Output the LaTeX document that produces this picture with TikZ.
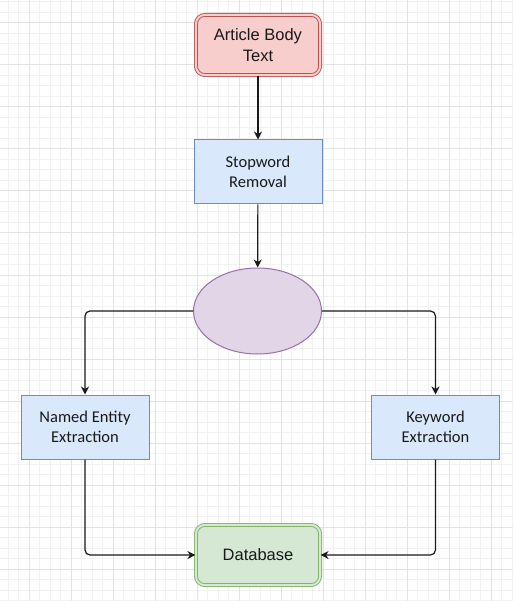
\documentclass[tikz,border=0pt]{standalone}
\usepackage{fontspec}
\setmainfont{Carlito}
\newfontfamily\arialfont{Liberation Sans}
\usetikzlibrary{arrows.meta,shapes.geometric}

\definecolor{redfill}{HTML}{F8CECC}
\definecolor{redline}{HTML}{B85450}
\definecolor{bluefill}{HTML}{DAE8FC}
\definecolor{blueline}{HTML}{6C8EBF}
\definecolor{purplefill}{HTML}{E1D5E7}
\definecolor{purpleline}{HTML}{9673A6}
\definecolor{greenfill}{HTML}{D5E8D4}
\definecolor{greenline}{HTML}{82B366}
\definecolor{gridminor}{HTML}{F2F2F2}
\definecolor{gridmajor}{HTML}{E3E3E3}

\tikzset{
	boxtext/.style={align=center, text=black!90, font=\fontsize{16.5}{20.5}\selectfont},
	stepbox/.style={boxtext, draw=blueline, fill=bluefill, line width=1pt, inner sep=0pt,
		minimum width=128pt, minimum height=64pt},
	endbox/.style={boxtext, font=\arialfont\fontsize{16.5}{20.5}\selectfont, rounded corners=9pt,
		line width=0.9pt, double distance=2pt, inner sep=0pt,
		minimum width=124.2pt, minimum height=60.2pt},
	splitnode/.style={ellipse, draw=purpleline, fill=purplefill, line width=1pt, inner sep=0pt,
		minimum width=128pt, minimum height=86pt},
	flow/.style={line width=1.2pt, black!90, rounded corners=5pt,
		-{Stealth[length=8pt, width=8pt, inset=2.5pt]}},
}

\begin{document}
\begin{tikzpicture}[x=1pt,y=-1pt]
		%%%%% START %%%%%
		
		\useasboundingbox (0,0) rectangle (513,601);
		\fill[white] (0,0) rectangle (513,601);
		
		\foreach \gx in {8,18.5,...,513} \draw[gridminor, line width=1pt] (\gx,0) -- (\gx,601);
		\foreach \gy in {2,12.5,...,601} \draw[gridminor, line width=1pt] (0,\gy) -- (513,\gy);
		\foreach \gx in {29,71,...,513} \draw[gridmajor, line width=1pt] (\gx,0) -- (\gx,601);
		\foreach \gy in {23,65,...,601} \draw[gridmajor, line width=1pt] (0,\gy) -- (513,\gy);
		
		\node[endbox, draw=redline, double=redfill, fill=redfill] (article) at (258,45) {Article Body\\Text};
		\node[stepbox] (stopword) at (258,172) {Stopword\\Removal};
		\node[splitnode] (split) at (257.5,311) {};
		
		\node[stepbox] (ner) at (85,427) {Named Entity\\Extraction};
		\node[stepbox] (kwe) at (435.5,427) {Keyword\\Extraction};
		
		\node[endbox, draw=greenline, double=greenfill, fill=greenfill] (db) at (258,555) {Database};
		
		\draw[flow] (article) -- (stopword);
		\draw[flow] (stopword) -- (split);
		\draw[flow] (split.west) -| (ner.north);
		\draw[flow] (split.east) -| (kwe.north);
		\draw[flow] (ner.south) |- (db.west);
		\draw[flow] (kwe.south) |- (db.east);
		
		%%%%% END %%%%%
	\end{tikzpicture}
\end{document}
